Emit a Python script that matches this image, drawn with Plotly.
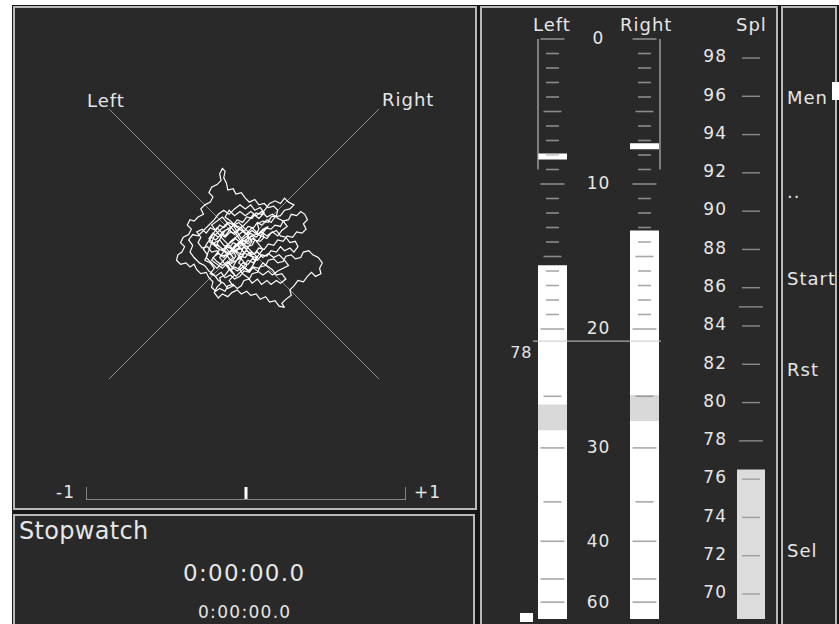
import numpy as np
import plotly.graph_objects as go

W, H = 839, 624
FONT = "DejaVu Sans"
TXT = "#e6e6e6"

# ---------------- data ----------------
# L/R level meter (dB below full scale)
channels = ["Left", "Right"]
level_db = [15.6, 13.2]
peak_db = [8.1, 7.4]
band_db = [(25.8, 28.3), (24.9, 27.4)]
bracket_db = [0, 9]
threshold_db = 20.9
threshold_label = "78"
meter_labels_db = [0, 10, 20, 30, 40, 60]
meter_ticks_db = list(range(0, 21)) + [25, 30, 35, 40, 50, 60]
# meter deflection law (dB -> percent of scale)
meter_knots_db = [0, 20, 25, 30, 35, 40, 50, 60, 70]
meter_knots_defl = [100, 50, 38.4, 29.5, 20.2, 13.4, 6.9, 2.9, 0]

# SPL meter
spl_labels = [98, 96, 94, 92, 90, 88, 86, 84, 82, 80, 78, 76, 74, 72, 70]
spl_value = 76.5
spl_peak = 85
spl_threshold = 78
spl_floor = 68.7

# correlation
correlation = 0.0

# stopwatch
stopwatch_main = "0:00:00.0"
stopwatch_lap = "0:00:00.0"
menu_items = [("Men", 97), ("..", 191), ("Start", 278), ("Rst", 369), ("Sel", 550)]

# goniometer trace (hundredths of full scale)
gonio_xy = [
    (0, 0), (3, 2), (5, 6), (9, 7), (11, 11), (10, 15), (14, 17), (18, 16), (20, 20), (24, 21), (25, 25), (22, 28),
    (18, 27), (15, 30), (11, 29), (8, 33), (4, 31), (1, 34), (-2, 38), (-6, 37), (-8, 41), (-12, 40), (-13, 45),
    (-15, 49), (-14, 54), (-16, 56), (-18, 52), (-17, 47), (-20, 44), (-24, 42), (-26, 38), (-23, 35), (-25, 31),
    (-29, 29), (-32, 26), (-30, 22), (-34, 20), (-37, 17), (-40, 18), (-42, 14), (-39, 11), (-41, 7), (-45, 5),
    (-47, 1), (-44, -2), (-46, -6), (-49, -8), (-50, -12), (-47, -15), (-43, -14), (-40, -17), (-37, -15),
    (-35, -19), (-32, -22), (-28, -21), (-26, -25), (-23, -28), (-24, -32), (-21, -35), (-18, -33), (-14, -35),
    (-12, -31), (-8, -30), (-5, -33), (-2, -31), (0, -27), (4, -26), (6, -22), (10, -21), (12, -17), (16, -16),
    (18, -12), (22, -11), (25, -14), (29, -13), (31, -9), (35, -8), (38, -11), (42, -10), (44, -6), (48, -5),
    (51, -8), (55, -10), (58, -14), (56, -18), (57, -22), (53, -24), (50, -21), (47, -24), (44, -28), (40, -27),
    (37, -31), (34, -34), (35, -38), (31, -41), (28, -44), (30, -47), (26, -46), (23, -42), (19, -43), (16, -39),
    (12, -41), (9, -37), (5, -38), (2, -35), (-2, -37), (-5, -34), (-9, -36), (-12, -39), (-16, -37), (-19, -40),
    (-22, -36), (-20, -32), (-17, -29), (-18, -25), (-14, -23), (-11, -19), (-13, -15), (-9, -13), (-6, -9),
    (-8, -5), (-4, -3), (-1, 1), (2, -2), (6, -1), (8, 3), (12, 2), (15, 5), (13, 9), (16, 12), (20, 11), (23, 14),
    (27, 13), (29, 17), (33, 18), (35, 22), (39, 21), (42, 24), (45, 22), (47, 18), (44, 15), (46, 11), (43, 8),
    (39, 9), (36, 5), (32, 6), (29, 2), (25, 3), (22, -1), (18, 0), (15, -4), (11, -3), (8, -7), (4, -6), (1, -10),
    (-3, -9), (-6, -13), (-10, -12), (-13, -8), (-17, -9), (-20, -5), (-24, -6), (-27, -2), (-31, -3), (-34, 1),
    (-32, 5), (-35, 9), (-31, 11), (-28, 8), (-25, 12), (-21, 10), (-18, 14), (-15, 12), (-11, 16), (-8, 14),
    (-5, 18), (-1, 16), (2, 20), (6, 19), (9, 23), (13, 22), (16, 26), (19, 30), (23, 32), (27, 30), (30, 34),
    (33, 31), (37, 29), (34, 26), (30, 25), (27, 21), (23, 20), (20, 16), (17, 18), (13, 14), (10, 16), (7, 12),
    (3, 13), (0, 9), (-3, 11), (-7, 7), (-10, 9), (-14, 5), (-17, 7), (-21, 3), (-24, 5), (-27, 1), (-30, -4),
    (-27, -8), (-29, -12), (-25, -14), (-22, -18), (-25, -22), (-21, -24), (-17, -21), (-14, -25), (-10, -23),
    (-7, -26), (-3, -24), (0, -20), (4, -21), (7, -17), (11, -18), (14, -14), (17, -16), (21, -19), (24, -23),
    (28, -22), (31, -26), (27, -29), (24, -27), (20, -30), (17, -27), (13, -30), (10, -26), (6, -29), (3, -25),
    (-1, -22), (-4, -18), (-1, -14), (3, -15), (6, -11), (10, -12), (13, -8), (17, -9), (20, -5), (24, -6),
    (27, -2), (30, -5), (34, -3), (37, -6), (40, -2), (38, 2), (34, 1), (31, 5), (27, 6), (24, 10), (20, 8),
    (17, 4), (13, 6), (10, 2), (6, 4), (3, 0), (-1, 3), (-4, -1), (-8, 1), (-11, -3), (-15, -1), (-18, 3),
    (-22, 1), (-20, -3), (-16, -5), (-13, -1), (-9, -4), (-6, 0), (-2, -4), (1, -7), (5, -9), (9, -10), (7, -14),
    (3, -12), (0, -16), (-3, -19), (-7, -17), (-10, -20), (-7, -23), (-11, -27), (-8, -31), (-12, -33),
    (-15, -29), (-19, -27), (-22, -23), (-26, -20), (-29, -16), (-33, -14), (-37, -10), (-40, -6), (-38, -1),
    (-41, 3), (-38, 7), (-34, 6), (-30, 10), (-26, 14), (-22, 18), (-19, 22), (-15, 25), (-11, 22), (-7, 26),
    (-3, 29), (1, 26), (5, 29), (8, 25), (12, 27), (15, 23), (11, 19), (7, 22), (4, 18), (0, 14), (-4, 11),
    (-8, 8), (-12, 11), (-16, 9), (-19, 5), (-23, 8), (-26, 4), (-22, 0), (-18, -2), (-14, -5), (-10, -8),
    (-6, -5), (-2, -8), (2, -5), (6, -8), (10, -6), (14, -10), (18, -7), (22, -10), (26, -8), (30, -12),
    (33, -16), (29, -18), (25, -20), (21, -23), (18, -20), (14, -23), (10, -20), (6, -17), (3, -20), (-1, -17),
    (-5, -20), (-9, -17), (-12, -13), (-16, -16), (-20, -13), (-23, -10), (-19, -7), (-15, -10), (-11, -6),
    (-7, -2), (-3, 2), (1, 5), (5, 8), (9, 5), (13, 9), (17, 6), (21, 9), (25, 6), (28, 10), (32, 13), (29, 17),
    (25, 19), (21, 22), (17, 20), (13, 24), (9, 21), (5, 24), (1, 21), (-3, 24), (-7, 21), (-11, 25), (-14, 20),
    (-10, 17), (-6, 13), (-2, 10), (2, 7), (6, 10), (10, 7), (14, 11), (18, 13),
    (12, 6), (6, 12), (-2, 4), (-8, 14), (-14, 6), (-20, 12), (-26, 2), (-18, -4), (-24, -12), (-16, -18),
    (-8, -10), (-14, -2), (-6, 4), (2, -4), (-4, -14), (4, -20), (10, -10), (2, -2), (-10, -6), (-20, -18),
    (-28, -10), (-22, 6), (-12, 16), (-2, 12), (6, 2), (-2, -10), (-12, -16), (-6, -24), (2, -16), (-6, -6),
    (-16, 4), (-24, 14), (-16, 20), (-6, 8), (0, -2), (8, -12), (14, -4), (6, 6), (-4, 0), (-12, -8), (-20, 0),
    (-14, 10), (-4, 16), (4, 8), (-2, -6), (-10, -20), (-18, -10), (-10, 2), (0, 10),
]

# ---------------- helpers ----------------
def defl(db):
    return np.interp(db, meter_knots_db, meter_knots_defl)


def dx(px):
    return px / W


def dy(py):
    return 1 - py / H


def sp(text, ls=1.0):
    return '<span style="letter-spacing:%.1fpx">%s</span>' % (ls, text)


fig = go.Figure()

# ---------- L/R meter (x2, y2) ----------
M_PX_PER_X = 92.0   # pixels per channel unit
M_PX_PER_Y = 5.8    # pixels per percent deflection
bar_w = 29 / M_PX_PER_X
xs = [0, 1]

fig.add_trace(go.Bar(x=xs, y=[defl(v) for v in level_db], base=0, width=bar_w,
                     marker=dict(color="#ffffff", line_width=0), xaxis="x2", yaxis="y2", hoverinfo="skip"))
fig.add_trace(go.Bar(x=xs, y=[defl(a) - defl(b) for a, b in band_db], base=[defl(b) for a, b in band_db],
                     width=bar_w, marker=dict(color="#d9d9d9", line_width=0), xaxis="x2", yaxis="y2", hoverinfo="skip"))
pk_h = 6 / M_PX_PER_Y
fig.add_trace(go.Bar(x=xs, y=[pk_h] * 2, base=[defl(p) - pk_h / 2 for p in peak_db], width=bar_w,
                     marker=dict(color="#ffffff", line_width=0), xaxis="x2", yaxis="y2", hoverinfo="skip"))

# SPL bar (x4, y4)
S_PX_PER_X = 40.0
fig.add_trace(go.Bar(x=[0], y=[spl_value - spl_floor], base=spl_floor, width=28 / S_PX_PER_X,
                     marker=dict(color="#dcdcdc", line_width=0), xaxis="x4", yaxis="y4", hoverinfo="skip"))


def tick_len(db):
    if db % 10 == 0:
        return 24
    if db % 5 == 0:
        return 18
    return 13


# meter ticks: split by whether they sit on the lit bar
for ci, ch in enumerate(channels):
    lit = defl(level_db[ci])
    for on_bar, col in [(False, "#b4b4b4"), (True, "#858585")]:
        sel = [d for d in meter_ticks_db if (defl(d) <= lit) == on_bar]
        if not sel:
            continue
        fig.add_trace(go.Scatter(
            x=[ci] * len(sel), y=[defl(d) for d in sel], mode="markers", cliponaxis=False,
            marker=dict(symbol="line-ew", size=[tick_len(d) / 1.4 for d in sel],
                        line=dict(color=col, width=1.6)),
            xaxis="x2", yaxis="y2", hoverinfo="skip"))

# brackets
for bx in [-14.5 / M_PX_PER_X, 1 + 15.5 / M_PX_PER_X]:
    fig.add_trace(go.Scatter(x=[bx, bx], y=[defl(bracket_db[0]), defl(bracket_db[1])], mode="lines",
                             cliponaxis=False, line=dict(color="#b8b8b8", width=1.2),
                             xaxis="x2", yaxis="y2", hoverinfo="skip"))

# threshold line
fig.add_trace(go.Scatter(x=[-19.5 / M_PX_PER_X, 1 + 16.5 / M_PX_PER_X], y=[defl(threshold_db)] * 2, mode="lines",
                         cliponaxis=False, line=dict(color="#c8c8c8", width=1), xaxis="x2", yaxis="y2",
                         hoverinfo="skip"))
fig.add_trace(go.Scatter(x=[-20 / M_PX_PER_X], y=[defl(threshold_db) - 13 / M_PX_PER_Y], mode="text",
                         cliponaxis=False, text=[sp(threshold_label, 1)], textposition="middle left",
                         textfont=dict(family=FONT, size=16, color=TXT), xaxis="x2", yaxis="y2", hoverinfo="skip"))

# meter scale labels
fig.add_trace(go.Scatter(x=[0.5] * len(meter_labels_db), y=[defl(d) - 0.2 for d in meter_labels_db], mode="text",
                         cliponaxis=False, text=[sp(str(d), 1) for d in meter_labels_db], textposition="middle center",
                         textfont=dict(family=FONT, size=17, color=TXT), xaxis="x2", yaxis="y2", hoverinfo="skip"))

# SPL ticks
spl_ticks = spl_labels + [spl_peak]
for on_bar, col in [(False, "#b4b4b4"), (True, "#858585")]:
    sel = [v for v in spl_ticks if (v <= spl_value) == on_bar]
    fig.add_trace(go.Scatter(
        x=[0] * len(sel), y=sel, mode="markers", cliponaxis=False,
        marker=dict(symbol="line-ew",
                    size=[(24 if v in (spl_threshold, spl_peak) else 18) / 1.4 for v in sel],
                    line=dict(color=col, width=1.4)),
        xaxis="x4", yaxis="y4", hoverinfo="skip"))
fig.add_trace(go.Scatter(x=[-24 / S_PX_PER_X] * len(spl_labels), y=spl_labels, mode="text", cliponaxis=False,
                         text=[sp(str(v), 1) for v in spl_labels], textposition="middle left",
                         textfont=dict(family=FONT, size=17, color=TXT), xaxis="x4", yaxis="y4", hoverinfo="skip"))

# ---------- goniometer (x3, y3) ----------
fig.add_trace(go.Scatter(x=[-1, 1, None, 1, -1], y=[1, -1, None, 1, -1], mode="lines",
                         line=dict(color="#8c8c8c", width=1), xaxis="x3", yaxis="y3", hoverinfo="skip"))
fig.add_trace(go.Scatter(x=[p[0] / 100 for p in gonio_xy], y=[p[1] / 100 for p in gonio_xy], mode="lines",
                         line=dict(color="#ffffff", width=1.2), xaxis="x3", yaxis="y3", hoverinfo="skip"))

# ---------- correlation meter (x5, y5) ----------
fig.add_trace(go.Scatter(x=[-1, -1, 1, 1], y=[1, 0, 0, 1], mode="lines", cliponaxis=False,
                         line=dict(color="#a0a0a0", width=1.5), xaxis="x5", yaxis="y5", hoverinfo="skip"))
fig.add_trace(go.Scatter(x=[correlation, correlation], y=[0.08, 1.05], mode="lines", cliponaxis=False,
                         line=dict(color="#ffffff", width=3), xaxis="x5", yaxis="y5", hoverinfo="skip"))

# ---------------- panels ----------------
shapes = [
    dict(type="rect", x0=12, y0=5, x1=W, y1=H, fillcolor="#161616", line_width=0),
]
panels = [(14, 7, 476, 509), (14, 515, 474, 640), (481, 7, 777, 640), (782, 7, 836, 640)]
for x0, y0, x1, y1 in panels:
    shapes.append(dict(type="rect", x0=x0, y0=y0, x1=x1, y1=y1, fillcolor="#292929",
                       line=dict(color="#b8b8b8", width=2)))
for s in shapes:
    s.update(xref="x", yref="y", layer="below")
# small indicator blocks
shapes.append(dict(type="rect", xref="x", yref="y", x0=520, y0=613, x1=533, y1=622,
                   fillcolor="#ffffff", line_width=0, layer="above"))
shapes.append(dict(type="rect", xref="x", yref="y", x0=832, y0=82, x1=839, y1=100,
                   fillcolor="#ffffff", line_width=0, layer="above"))


def ann(text, x, y, size=18, xanchor="center", ls=1.0, color=TXT):
    return dict(text=sp(text, ls), x=x, y=y, xref="x", yref="y", showarrow=False, xanchor=xanchor,
                yanchor="middle", font=dict(family=FONT, size=size, color=color))


annotations = [
    ann("Left", 106, 100), ann("Right", 408, 99),
    ann("-1", 77, 492, 17, "right"), ann("+1", 412, 492, 17, "left"),
    ann("Stopwatch", 17, 531, 24, "left", 0.3),
    ann(stopwatch_main, 244, 573, 23, ls=1.3),
    ann(stopwatch_lap, 244, 612, 17, ls=1.3),
    ann("Left", 552, 24), ann("Right", 646, 24), ann("Spl", 751, 24),
]
for label, yy in menu_items:
    annotations.append(ann(label, 785, yy, 18, "left"))

hidden = dict(visible=False, fixedrange=True)
fig.update_layout(
    width=W, height=H, margin=dict(l=0, r=0, t=0, b=0),
    paper_bgcolor="#ffffff", plot_bgcolor="rgba(0,0,0,0)",
    showlegend=False, barmode="overlay",
    shapes=shapes, annotations=annotations,
    xaxis=dict(range=[0, W], domain=[0, 1], **hidden),
    yaxis=dict(range=[H, 0], domain=[0, 1], **hidden),
    xaxis2=dict(range=[-0.5, 1.5], domain=[dx(552.5 - 46), dx(644.5 + 46)], anchor="y2", **hidden),
    yaxis2=dict(range=[0, 100], domain=[dy(619), dy(39)], anchor="x2", **hidden),
    xaxis3=dict(range=[-1, 1], domain=[dx(109), dx(379)], anchor="y3", **hidden),
    yaxis3=dict(range=[-1, 1], domain=[dy(379), dy(109)], anchor="x3", **hidden),
    xaxis4=dict(range=[-1, 1], domain=[dx(711), dx(791)], anchor="y4", **hidden),
    yaxis4=dict(range=[spl_floor, 100], domain=[dy(58 + (98 - spl_floor) * 19.143), dy(58 - 2 * 19.143)],
                anchor="x4", **hidden),
    xaxis5=dict(range=[-1, 1], domain=[dx(86), dx(406)], anchor="y5", **hidden),
    yaxis5=dict(range=[0, 1], domain=[dy(500), dy(487)], anchor="x5", **hidden),
)

fig.write_html("out.html", config={"displayModeBar": False},
               post_script="document.body.style.margin='0';document.body.style.overflow='hidden';")
